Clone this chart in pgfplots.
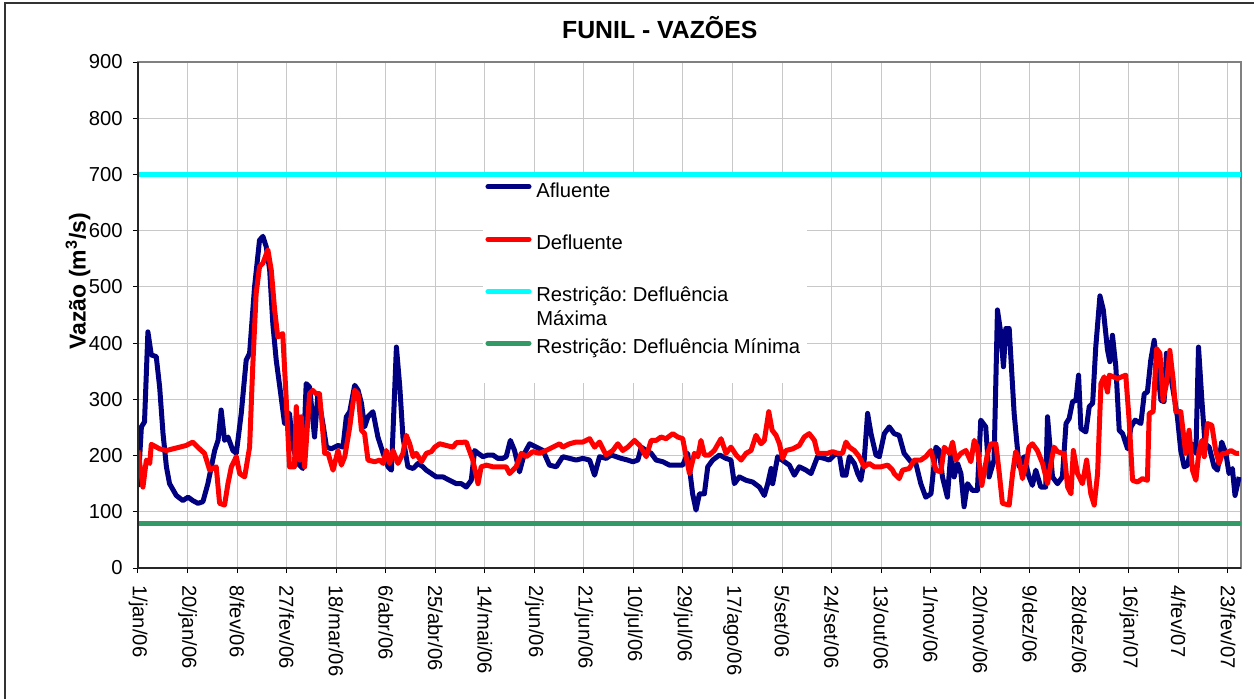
\documentclass[border=0pt]{standalone}
\usepackage{pgfplots}
\pgfplotsset{compat=1.18}
\usepackage{fontspec}
\setmainfont{Liberation Sans}
\frenchspacing
\definecolor{afl}{HTML}{000080}
\definecolor{dfl}{HTML}{FF0000}
\definecolor{rmax}{HTML}{00FFFF}
\definecolor{rmin}{HTML}{339966}
\definecolor{gridc}{HTML}{C8C8C8}
\begin{document}
\frenchspacing
\begin{tikzpicture}
\begin{axis}[
  at={(0,0)}, anchor=south west,
  scale only axis, width=551.5pt, height=253pt,
  xmin=0, xmax=423, ymin=0, ymax=900,
  clip mode=individual,
  axis line style={draw=gray, line width=0.6pt},
  xtick={0,19,...,418},
  xticklabels={1/jan/06,20/jan/06,8/fev/06,27/fev/06,18/mar/06,6/abr/06,25/abr/06,14/mai/06,2/jun/06,21/jun/06,10/jul/06,29/jul/06,17/ago/06,5/set/06,24/set/06,13/out/06,1/nov/06,20/nov/06,9/dez/06,28/dez/06,16/jan/07,4/fev/07,23/fev/07},
  ytick={0,100,...,900},
  tick align=outside, xtick pos=bottom, ytick pos=left,
  major tick length=2.5pt,
  tick style={black, line width=0.5pt},
  grid=major, major grid style={draw=gridc, line width=0.5pt},
  /pgf/number format/assume math mode=true,
  ticklabel style={font=\fontsize{10.1}{12}\selectfont, inner sep=0pt},
  yticklabel style={anchor=east, xshift=-5pt},
  xticklabel style={yshift=-6pt, rotate=-90, anchor=west},
  ylabel={\textbf{Vazão (m\textsuperscript{3}/s)}},
  ylabel style={at={(axis description cs:-0.0544,0.567)}, anchor=center, font=\fontsize{11.5}{13}\selectfont},
  every axis title shift=0pt,
  title={\textbf{FUNIL - VAZÕES}},
  title style={at={(axis description cs:0.473,1.069)}, anchor=center, font=\fontsize{12.4}{14}\selectfont},
]
\fill[white] (rel axis cs:0.3128,0.3656) rectangle (rel axis cs:0.6065,0.7727);
\addplot[rmax, line width=2.5pt] coordinates {(0,700)(423,700)};
\addplot[rmin, line width=2.5pt] coordinates {(0,80)(423,80)};
\addplot[afl, line width=2.5pt, line join=round] coordinates {
(0,144)(1.3,251)(2.5,260)(3.8,420)(5.1,379)(7,376)(8.3,322)(9.6,239)(10.9,180)(12.1,150)(14.7,129)(17.2,120)(19.2,126)(21,120)(23,115)(24.9,118)(26.8,150)(29.4,209)(30.7,227)(31.9,281)(33.2,227)(34.5,233)(36.4,209)(37.7,204)(39.6,275)(41.5,370)(42.8,382)(44.7,500)(46.6,583)(47.9,590)(49.2,571)(50.5,530)(51.7,435)(53,370)(54.9,304)(56.2,257)(58.1,275)(59.4,215)(61.3,186)(63.2,177)(64.5,328)(65.8,322)(67.7,233)(69,310)(70.9,257)(72.3,215)(74.2,212)(76.7,218)(78.6,215)(79.9,269)(81.2,278)(83.1,325)(84.4,316)(85.7,293)(86.9,251)(88.2,269)(90.1,278)(92,233)(94,204)(95.9,180)(97.2,174)(99.1,393)(100.4,322)(101.6,233)(103.5,180)(105.5,177)(107.4,186)(109.3,180)(110.6,174)(112.5,168)(114.4,162)(117,162)(119.5,156)(122.1,150)(124,150)(125.9,144)(127.8,156)(129.1,209)(130.4,204)(132.3,198)(134.2,201)(136.1,201)(138,195)(139.9,195)(141.2,198)(142.8,227)(144.4,209)(146.3,171)(148.2,204)(150.2,221)(152.7,215)(155.3,209)(157.8,183)(160.4,180)(162.9,198)(165.5,195)(168,192)(170.6,195)(173.2,192)(175.1,165)(177,198)(179.5,195)(181.5,201)(183.4,198)(185.3,195)(187.8,192)(189.8,189)(191.7,192)(193,215)(194.9,209)(196.8,204)(198.7,192)(201.3,189)(203.8,183)(206.4,183)(208.9,183)(210.8,204)(212.7,132)(214,103)(215.3,132)(217.2,132)(218.5,180)(220.4,192)(223,201)(225.5,195)(227.4,192)(228.7,150)(230.6,162)(233.2,156)(235.7,153)(238.3,144)(240.2,129)(241.5,150)(242.8,177)(243.4,150)(245.3,198)(247.9,189)(249.8,183)(251.7,165)(253.6,180)(256.2,174)(258.1,168)(260.6,198)(263.2,195)(265.1,192)(267,201)(268.9,204)(270.2,165)(271.5,165)(272.8,198)(274.7,186)(276,168)(277.2,156)(278.5,192)(279.8,275)(281.1,239)(283,201)(284.3,198)(286.2,239)(288.1,251)(290,239)(291.9,236)(293.8,204)(296.4,189)(298.3,186)(300.2,150)(302.1,126)(304.1,132)(306,215)(307.3,209)(308.5,162)(310.4,126)(311.7,204)(313,162)(314.3,186)(315.6,168)(316.8,109)(318.1,150)(320,138)(321.9,138)(323.2,263)(325.1,251)(326.4,162)(328.3,192)(329.6,459)(330.9,417)(331.9,358)(332.8,426)(334.1,426)(336,275)(337.9,180)(339.8,198)(341.7,162)(343,147)(344.3,174)(346.2,144)(348.1,144)(348.8,269)(350.7,162)(352.6,150)(354.5,162)(355.9,257)(357.1,266)(358.4,296)(359.7,298)(360.7,343)(361.6,248)(363.5,242)(364.8,287)(366.1,293)(367.3,393)(368.9,484)(370.2,459)(371.8,388)(372.7,367)(373.7,414)(375,358)(376.3,245)(377.6,239)(379.5,212)(380.8,251)(382.4,263)(384.6,257)(385.9,310)(387.1,313)(388.4,370)(389.7,405)(391,352)(392.3,298)(393.5,296)(394.4,382)(396.1,340)(397.4,304)(398.6,269)(399.9,209)(401.2,180)(402.5,183)(404.1,221)(405.7,204)(406.7,393)(408,298)(409.2,221)(410.8,215)(412.7,180)(414,174)(415.6,224)(417.2,204)(418.4,168)(419.7,177)(420.7,129)(422.3,162)
};
\addplot[dfl, line width=2.5pt, line join=round] coordinates {
(0,209)(1.9,144)(3.2,192)(4.5,186)(5.1,220)(8.3,212)(10.9,209)(13.4,212)(16,215)(18.5,218)(21,224)(23.6,212)(25.5,204)(27.5,174)(30,180)(31.3,115)(33.2,112)(34.5,150)(35.8,180)(37.7,198)(39,168)(40.9,162)(42.8,215)(44,358)(45.3,488)(46.6,536)(47.9,542)(49.8,566)(51.1,530)(52.4,459)(53.6,411)(55.5,417)(56.8,304)(58.1,180)(60,180)(60.7,287)(62,192)(62.6,269)(63.9,180)(65.8,310)(67,316)(68.3,310)(69.6,310)(71.6,204)(72.9,204)(74.8,174)(76.7,209)(78,183)(79.3,198)(81.2,251)(83.1,316)(84.4,310)(85.7,245)(86.9,239)(88.2,192)(90.8,189)(92.7,192)(94,186)(95.2,209)(96.5,186)(97.8,209)(99.7,186)(101.6,204)(102.9,236)(104.2,221)(105.5,198)(106.7,204)(108.7,189)(110.6,204)(112.5,207)(113.8,215)(115.7,221)(118.2,218)(120.8,215)(122.1,223)(125.9,224)(128.4,192)(130.4,150)(131.6,180)(133.6,183)(136.1,180)(139.3,180)(141.2,180)(142.5,168)(145,180)(147,204)(148.9,198)(151.4,207)(154,204)(156.5,209)(159.1,215)(161.7,221)(162.9,215)(165.5,221)(168,224)(170.6,224)(173.2,230)(175.1,215)(177,224)(179.5,201)(182.1,209)(184,221)(185.9,209)(187.8,215)(190.4,227)(192.4,218)(194.9,198)(196.8,227)(198.7,227)(200.6,233)(202.5,230)(205.1,239)(207,233)(208.9,230)(210.2,198)(211.5,168)(213.4,204)(214.7,198)(215.9,227)(217.2,201)(219.1,201)(221,209)(223.6,230)(225.5,204)(227.4,215)(229.4,201)(231.3,192)(233.2,204)(235.1,209)(237,236)(238.9,221)(240.2,227)(241.9,278)(243.2,245)(244.7,236)(246,221)(247.2,195)(248.5,209)(251.1,212)(253.6,218)(255.5,233)(257.4,239)(259.4,227)(260.6,204)(262.6,204)(264.5,204)(266.4,207)(268.3,204)(270.2,204)(271.5,224)(272.8,215)(274.7,209)(276.6,198)(278.5,180)(280.4,186)(282.3,180)(284.9,180)(287.5,183)(289.4,174)(290,168)(291.9,159)(293.2,174)(295.8,177)(297.7,192)(300.2,192)(302.1,198)(304.1,209)(306,174)(307.9,171)(309.2,215)(311.1,204)(312.4,224)(313.6,192)(315.6,204)(317.5,209)(319.4,189)(320.7,227)(321.9,215)(323.6,147)(325.8,204)(327.1,221)(329,221)(330.3,168)(331.5,115)(334.1,112)(335.4,168)(336.6,207)(337.9,192)(339.2,159)(340.5,183)(341.7,215)(343,221)(344.9,209)(346.9,186)(348.8,150)(350.1,186)(351.3,215)(352.6,207)(354.5,204)(355.2,204)(356.5,144)(357.8,132)(358.7,209)(360.3,168)(362.2,150)(363.8,192)(365.4,132)(366.7,112)(368,168)(369.3,328)(370.5,340)(371.8,313)(372.5,343)(375.6,337)(378.8,343)(380.1,263)(381.4,156)(383.3,153)(385.2,159)(387.1,156)(387.8,275)(389.3,278)(390.6,390)(391.9,382)(393.1,298)(394.4,328)(395.7,387)(397,334)(398,278)(399.9,278)(401.8,204)(403.1,245)(404.4,174)(405.7,156)(406.9,209)(408,227)(408.9,198)(410.1,257)(411.8,254)(413.3,209)(414.6,186)(415.9,204)(417.2,204)(419.1,209)(421,204)(422.3,204)
};
\draw[black!85, line width=0.8pt] (rel axis cs:0,1) -- (rel axis cs:0,0) -- (rel axis cs:1,0);
% legend
\draw[afl, line width=2.5pt, line cap=round] (rel axis cs:0.3173,0.7536) -- (rel axis cs:0.3545,0.7536);
\draw[dfl, line width=2.5pt, line cap=round] (rel axis cs:0.3173,0.6496) -- (rel axis cs:0.3545,0.6496);
\draw[rmax, line width=2.5pt, line cap=round] (rel axis cs:0.3173,0.5460) -- (rel axis cs:0.3545,0.5460);
\draw[rmin, line width=2.5pt, line cap=round] (rel axis cs:0.3173,0.4441) -- (rel axis cs:0.3545,0.4441);
\begin{scope}[every node/.style={anchor=base west, inner sep=0pt, font=\fontsize{10.1}{12}\selectfont\frenchspacing}]
\node at (rel axis cs:0.3608,0.7326) {Afluente};
\node at (rel axis cs:0.3608,0.6304) {Defluente};
\node at (rel axis cs:0.3608,0.5263) {Restrição: Defluência};
\node at (rel axis cs:0.3608,0.4802) {Máxima};
\node at (rel axis cs:0.3608,0.4249) {Restrição: Defluência Mínima};
\end{scope}
\end{axis}
\draw[black!80, line width=0.7pt] (-66.5pt,-80pt) -- (-66.5pt,282.5pt) -- (620pt,282.5pt);
\pgfresetboundingbox
\useasboundingbox (-69pt,-65pt) rectangle (558pt,284pt);
\end{tikzpicture}
\end{document}
